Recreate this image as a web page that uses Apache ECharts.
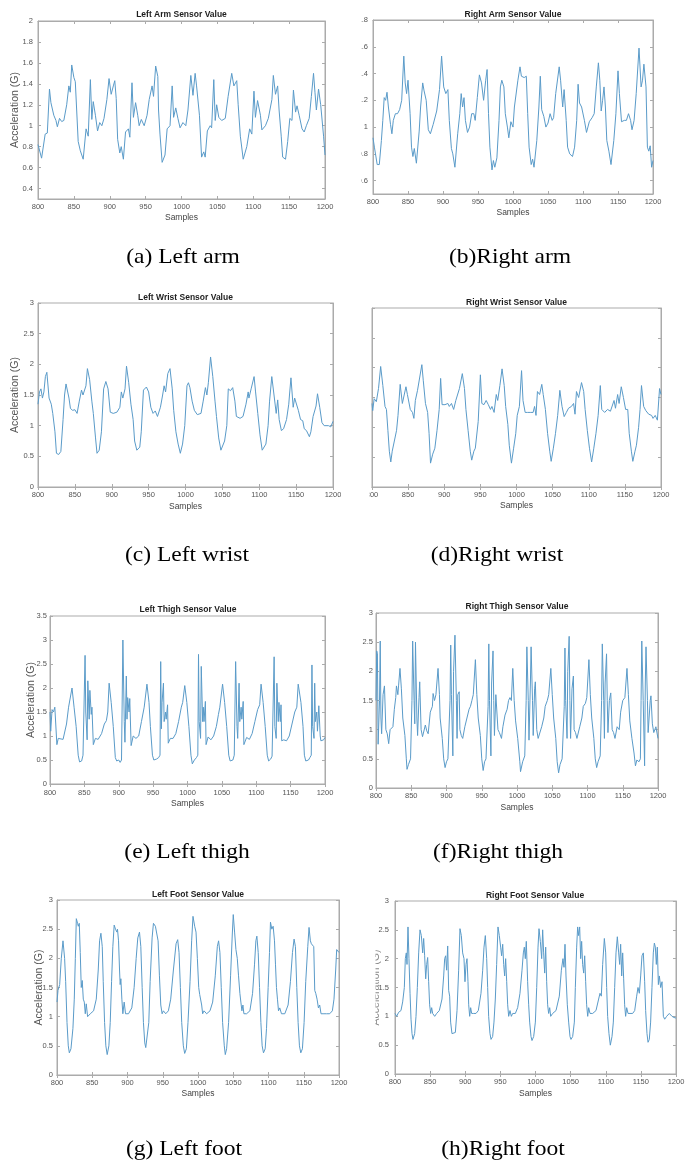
<!DOCTYPE html>
<html>
<head>
<meta charset="utf-8">
<script src="https://cdn.jsdelivr.net/npm/echarts@6.0.0/dist/echarts.min.js"></script>
<style>
html,body{margin:0;padding:0;background:#fff;}
#chart{width:692px;height:1164px;}
</style>
</head>
<body>
<div id="chart"></div>
<script>
// ---------- DATA (sample, acceleration G) ----------
const leftArm = [[800,0.82],[805,0.69],[810,0.92],[813,0.93],[816,1.35],[818,1.22],[822,1.1],[825,1.05],[827,0.99],[830,1.07],[833,1.04],[836,1.05],[840,1.2],[843,1.38],[845,1.32],[847,1.58],[850,1.46],[852,1.42],[856,0.85],[859,0.76],[863,0.68],[867,0.97],[870,0.9],[873,1.44],[875,1.06],[877,1.23],[880,1.1],[883,0.95],[886,1.03],[889,1.0],[892,1.07],[896,1.25],[899,1.45],[902,1.3],[905,1.38],[907,1.43],[909,1.26],[911,0.87],[914,0.74],[916,0.8],[919,0.68],[922,0.94],[926,0.97],[928,0.89],[931,1.41],[933,1.08],[936,1.22],[939,1.1],[941,1.0],[944,1.06],[948,1.0],[952,1.1],[955,1.25],[959,1.38],[961,1.28],[964,1.57],[967,1.47],[968,1.15],[970,0.92],[973,0.65],[977,0.72],[980,0.97],[984,1.0],[987,1.38],[989,1.08],[992,1.17],[995,1.07],[998,0.98],[1002,1.03],[1006,1.0],[1009,1.15],[1013,1.48],[1016,1.29],[1019,1.5],[1021,1.38],[1025,1.1],[1028,0.7],[1031,0.75],[1033,0.7],[1036,0.95],[1040,1.0],[1042,0.98],[1045,1.44],[1047,1.05],[1049,1.2],[1052,1.08],[1056,1.05],[1061,1.07],[1065,1.28],[1070,1.5],[1073,1.38],[1077,1.43],[1079,1.2],[1082,0.9],[1086,0.68],[1091,0.8],[1095,0.97],[1098,0.92],[1101,1.33],[1103,1.08],[1106,1.24],[1110,1.1],[1112,0.96],[1117,1.0],[1121,1.07],[1126,1.25],[1128,1.48],[1131,1.3],[1134,1.38],[1136,1.15],[1139,0.9],[1141,0.7],[1145,0.68],[1148,0.85],[1151,1.07],[1154,1.05],[1156,1.34],[1159,1.13],[1161,1.19],[1164,1.1],[1168,0.97],[1171,0.94],[1174,1.0],[1178,1.07],[1181,1.28],[1184,1.5],[1186,1.32],[1188,1.15],[1191,1.35],[1194,1.2],[1196,1.2],[1198,0.9],[1200,0.72]];

const rightArm = [[800,0.92],[802,0.85],[806,0.72],[809,0.72],[812,0.9],[814,1.05],[816,1.22],[818,1.2],[820,1.26],[822,1.15],[825,1.02],[827,0.95],[829,1.05],[832,1.1],[835,1.1],[838,1.13],[841,1.2],[844,1.53],[846,1.33],[848,1.25],[850,1.35],[853,1.1],[855,0.85],[857,0.78],[859,0.84],[862,0.73],[866,0.97],[868,1.15],[871,1.33],[873,1.27],[876,1.2],[879,0.98],[882,0.95],[886,1.02],[891,1.12],[895,1.28],[898,1.53],[901,1.3],[904,1.25],[907,1.28],[909,1.05],[912,0.84],[914,0.8],[917,0.7],[921,0.95],[924,1.1],[926,1.25],[928,1.15],[930,1.22],[932,1.05],[935,0.96],[938,1.0],[941,1.1],[944,1.1],[946,1.05],[949,1.22],[952,1.39],[955,1.33],[958,1.2],[961,1.35],[963,1.43],[965,1.1],[967,0.85],[970,0.68],[972,0.75],[974,0.7],[977,0.77],[980,1.05],[982,1.3],[984,1.35],[987,1.3],[989,1.1],[992,1.0],[994,0.92],[997,1.04],[1000,1.0],[1002,1.15],[1007,1.35],[1010,1.45],[1012,1.38],[1016,1.37],[1019,1.38],[1021,1.1],[1023,0.85],[1026,0.72],[1028,0.76],[1030,0.7],[1034,0.9],[1037,1.15],[1039,1.38],[1041,1.13],[1044,1.08],[1047,1.0],[1050,1.03],[1053,1.1],[1056,1.05],[1058,1.07],[1061,1.25],[1066,1.45],[1068,1.35],[1071,1.15],[1073,1.28],[1076,1.05],[1078,0.85],[1081,0.8],[1085,0.78],[1088,0.85],[1091,1.05],[1093,1.32],[1095,1.18],[1098,1.15],[1102,1.05],[1105,0.96],[1109,1.04],[1113,1.07],[1116,1.1],[1119,1.3],[1122,1.48],[1124,1.35],[1126,1.12],[1128,1.2],[1130,1.3],[1132,1.15],[1134,0.9],[1137,0.82],[1140,0.72],[1144,0.9],[1147,1.1],[1150,1.42],[1152,1.25],[1155,1.04],[1159,1.05],[1162,1.05],[1165,1.1],[1168,1.05],[1170,0.98],[1173,1.05],[1176,1.25],[1180,1.59],[1183,1.3],[1185,1.35],[1187,1.47],[1190,1.3],[1192,0.85],[1194,0.82],[1196,0.86],[1198,0.7],[1200,0.75]];

const leftWrist = [[800,1.35],[802,1.55],[804,1.6],[806,1.45],[808,1.55],[810,1.8],[812,1.87],[815,1.45],[818,1.35],[820,1.2],[823,0.9],[825,0.55],[828,0.53],[831,0.58],[834,1.1],[836,1.5],[838,1.68],[842,1.45],[844,1.28],[847,1.25],[850,1.26],[853,1.2],[856,1.4],[859,1.58],[861,1.5],[865,1.65],[867,1.93],[870,1.75],[873,1.4],[875,1.2],[878,0.8],[880,0.55],[883,0.6],[886,0.9],[889,1.6],[892,1.72],[895,1.6],[898,1.22],[902,1.2],[907,1.22],[911,1.3],[913,1.55],[915,1.45],[918,1.6],[920,1.97],[923,1.7],[926,1.35],[929,1.1],[931,0.75],[934,0.6],[938,0.65],[940,0.9],[943,1.58],[947,1.63],[950,1.55],[953,1.3],[956,1.2],[959,1.24],[962,1.15],[966,1.3],[969,1.5],[971,1.65],[973,1.55],[976,1.85],[979,1.93],[982,1.6],[984,1.25],[987,0.9],[990,0.7],[993,0.55],[996,0.7],[999,1.0],[1002,1.65],[1004,1.7],[1006,1.62],[1009,1.4],[1012,1.25],[1016,1.18],[1021,1.2],[1024,1.4],[1027,1.62],[1029,1.5],[1031,1.7],[1034,2.12],[1037,1.8],[1040,1.4],[1042,1.15],[1045,0.8],[1048,0.6],[1050,0.57],[1053,0.75],[1056,1.0],[1058,1.6],[1061,1.57],[1064,1.62],[1067,1.4],[1069,1.15],[1074,1.12],[1078,1.15],[1082,1.35],[1085,1.55],[1086,1.45],[1089,1.6],[1093,1.8],[1095,1.55],[1098,1.2],[1101,0.85],[1104,0.6],[1106,0.6],[1109,0.7],[1112,1.0],[1114,1.4],[1117,1.8],[1120,1.5],[1123,1.2],[1125,1.42],[1127,1.1],[1130,0.92],[1133,0.95],[1137,1.1],[1140,1.35],[1141,1.5],[1143,1.78],[1146,1.3],[1148,1.45],[1150,1.42],[1153,1.25],[1156,1.1],[1159,1.08],[1161,0.95],[1164,0.92],[1168,0.82],[1170,0.9],[1173,1.15],[1177,1.32],[1179,1.52],[1182,1.3],[1185,1.05],[1188,1.0],[1190,0.98],[1194,1.0],[1197,0.98],[1200,1.07]];

const rightWrist = [[800,1.4],[801,1.28],[803,1.48],[806,1.43],[809,1.65],[812,2.02],[815,1.7],[818,1.35],[820,1.3],[822,0.95],[824,0.6],[826,0.42],[828,0.6],[830,0.6],[834,0.95],[836,1.2],[839,1.72],[842,1.4],[844,1.4],[847,1.68],[849,1.55],[853,1.3],[856,1.25],[858,1.15],[860,1.45],[863,1.62],[865,1.62],[869,2.05],[871,1.78],[874,1.4],[877,1.25],[879,0.9],[881,0.4],[884,0.55],[887,0.65],[890,0.95],[893,1.3],[895,1.82],[897,1.38],[901,1.38],[905,1.4],[907,1.35],[910,1.4],[913,1.3],[916,1.45],[918,1.47],[921,1.65],[925,1.9],[928,1.65],[930,1.3],[933,0.95],[936,0.6],[938,0.45],[941,0.6],[943,0.65],[947,1.1],[950,1.88],[952,1.4],[955,1.38],[958,1.45],[961,1.38],[964,1.3],[966,1.35],[969,1.25],[972,1.55],[974,1.45],[977,1.7],[980,1.98],[983,1.7],[985,1.35],[988,1.05],[990,0.7],[993,0.4],[996,0.65],[999,0.9],[1001,1.2],[1004,1.35],[1007,1.95],[1009,1.45],[1012,1.25],[1015,1.25],[1019,1.25],[1023,1.25],[1025,1.35],[1027,1.2],[1029,1.6],[1032,1.55],[1035,1.72],[1037,1.55],[1040,1.3],[1043,0.9],[1046,0.6],[1048,0.43],[1051,0.65],[1054,0.9],[1057,1.2],[1060,1.62],[1063,1.35],[1066,1.18],[1069,1.25],[1072,1.32],[1076,1.35],[1079,1.4],[1081,1.22],[1083,1.6],[1086,1.5],[1090,1.75],[1093,1.6],[1095,1.3],[1098,0.95],[1101,0.65],[1104,0.42],[1107,0.65],[1110,0.9],[1113,1.2],[1116,1.7],[1118,1.3],[1122,1.25],[1126,1.3],[1130,1.27],[1132,1.3],[1135,1.45],[1137,1.32],[1140,1.55],[1142,1.4],[1145,1.68],[1148,1.5],[1151,1.3],[1154,1.3],[1156,0.9],[1159,0.6],[1161,0.43],[1164,0.6],[1166,0.7],[1169,1.0],[1171,1.3],[1173,1.7],[1176,1.35],[1179,1.28],[1183,1.22],[1187,1.2],[1189,1.15],[1192,1.2],[1195,1.12],[1198,1.65],[1200,1.55]];

const leftThigh = [[800,1.5],[801,1.1],[803,1.55],[805,1.5],[807,1.6],[810,0.82],[812,0.95],[819,0.93],[824,1.25],[827,1.6],[829,1.58],[832,2.0],[835,1.6],[838,1.2],[841,0.6],[843,0.46],[846,0.48],[848,0.6],[850,0.62],[851,2.68],[852,1.5],[854,0.92],[855,2.15],[857,1.35],[858,1.95],[860,1.45],[861,1.6],[863,0.82],[866,0.95],[870,0.93],[875,1.05],[879,1.25],[882,1.32],[884,1.5],[886,2.1],[889,1.7],[892,1.2],[895,0.55],[897,0.48],[900,0.5],[902,0.45],[904,0.5],[906,3.0],[908,1.3],[909,0.87],[911,2.25],[912,1.35],[913,1.8],[915,1.5],[916,1.78],[918,0.8],[921,1.0],[925,0.95],[929,1.0],[933,1.3],[937,1.6],[939,1.62],[941,2.08],[944,1.7],[946,1.2],[949,0.6],[951,0.5],[955,0.52],[958,0.55],[960,0.6],[961,2.55],[962,1.15],[963,1.7],[965,2.1],[966,1.3],[968,1.5],[969,1.35],[971,1.65],[972,0.85],[975,0.95],[979,0.95],[983,1.05],[987,1.3],[991,1.6],[993,1.7],[996,2.05],[999,1.7],[1002,1.2],[1005,0.6],[1007,0.42],[1010,0.5],[1013,0.55],[1015,0.6],[1016,2.7],[1017,1.3],[1019,0.95],[1020,2.45],[1022,1.3],[1023,1.6],[1024,1.3],[1026,1.72],[1027,0.82],[1030,0.98],[1034,0.92],[1038,1.0],[1042,1.2],[1045,1.45],[1047,1.6],[1051,2.08],[1054,1.7],[1057,1.2],[1060,0.6],[1062,0.48],[1066,0.5],[1068,0.6],[1069,0.62],[1070,2.55],[1072,1.2],[1073,0.95],[1075,2.1],[1076,1.3],[1078,1.6],[1079,1.35],[1081,1.72],[1082,0.82],[1086,0.97],[1090,0.93],[1094,1.05],[1098,1.3],[1102,1.55],[1105,1.65],[1107,2.08],[1110,1.7],[1113,1.2],[1116,0.6],[1118,0.48],[1121,0.52],[1123,0.58],[1125,0.6],[1126,2.65],[1127,1.2],[1129,0.95],[1130,2.1],[1132,1.3],[1133,1.7],[1135,1.3],[1136,1.65],[1137,0.9],[1140,0.92],[1144,0.9],[1148,1.0],[1152,1.25],[1156,1.5],[1159,1.6],[1161,2.08],[1165,1.7],[1168,1.2],[1170,0.6],[1172,0.48],[1176,0.5],[1178,0.55],[1180,0.6],[1181,2.48],[1182,1.2],[1184,0.95],[1185,2.1],[1186,1.3],[1188,1.5],[1189,1.1],[1191,1.63],[1193,1.0],[1194,0.9],[1198,0.92],[1200,0.97]];

const rightThigh = [[800,1.5],[801,2.35],[802,2.3],[803,0.75],[805,1.5],[806,2.52],[807,1.2],[808,0.93],[810,1.6],[812,1.75],[814,1.0],[816,0.93],[818,0.76],[820,1.0],[822,1.03],[824,1.05],[826,1.35],[828,1.55],[829,1.75],[831,1.6],[832,1.75],[834,2.05],[836,1.7],[838,1.2],[841,0.9],[843,0.5],[844,0.32],[846,0.4],[849,0.5],[850,0.48],[851,1.5],[852,2.52],[854,1.5],[855,1.1],[856,2.5],[858,1.2],[859,0.9],[861,1.55],[862,1.82],[864,1.0],[866,0.88],[867,0.85],[870,1.08],[872,0.98],[874,0.93],[877,1.3],[880,1.4],[881,1.62],[883,1.5],[885,1.6],[888,2.05],[890,1.6],[891,1.2],[894,0.85],[896,0.5],[898,0.35],[900,0.45],[902,0.5],[904,0.5],[905,1.5],[906,2.45],[907,1.6],[909,0.55],[910,2.0],[912,2.62],[914,1.5],[915,0.85],[916,1.6],[918,1.65],[919,1.0],[921,0.9],[923,0.85],[926,1.05],[929,1.2],[932,1.35],[934,1.4],[936,1.5],[938,1.6],[941,2.2],[943,1.6],[945,1.2],[948,0.9],[950,0.5],[952,0.3],[954,0.45],[956,0.5],[958,0.5],[959,1.4],[960,2.47],[961,1.5],[963,0.55],[964,1.8],[966,2.35],[967,1.5],[968,0.9],[970,1.6],[972,1.63],[973,1.0],[975,0.95],[978,0.85],[980,1.05],[983,1.25],[986,1.35],[988,1.5],[990,1.55],[992,1.5],[994,2.05],[996,1.5],[998,1.15],[1001,0.85],[1004,0.45],[1005,0.28],[1008,0.45],[1011,0.55],[1012,0.55],[1013,1.5],[1014,2.42],[1016,1.5],[1017,0.82],[1019,1.8],[1020,2.42],[1022,1.5],[1023,0.9],[1025,1.7],[1026,1.82],[1028,1.0],[1030,0.85],[1032,0.82],[1035,1.05],[1038,1.2],[1040,1.4],[1043,1.5],[1045,1.6],[1048,2.05],[1050,1.6],[1052,1.2],[1055,0.85],[1057,0.45],[1059,0.26],[1061,0.4],[1064,0.5],[1066,0.52],[1067,1.4],[1068,2.4],[1069,1.5],[1071,0.85],[1072,2.0],[1074,2.6],[1075,1.5],[1076,0.85],[1078,1.7],[1080,1.92],[1081,1.0],[1083,0.95],[1085,0.85],[1089,1.05],[1092,1.2],[1094,1.4],[1097,1.45],[1099,1.55],[1102,2.2],[1104,1.6],[1106,1.2],[1109,0.85],[1111,0.5],[1113,0.35],[1115,0.45],[1118,0.55],[1119,0.55],[1120,1.5],[1121,2.47],[1123,1.5],[1124,0.85],[1125,1.8],[1127,2.3],[1128,1.5],[1129,0.95],[1131,1.5],[1133,1.63],[1135,1.0],[1137,0.95],[1139,0.85],[1142,1.05],[1145,1.0],[1147,1.3],[1150,1.5],[1153,1.55],[1156,2.05],[1158,1.6],[1160,1.15],[1163,0.85],[1166,0.6],[1168,0.38],[1170,0.48],[1173,0.45],[1175,0.5],[1176,1.5],[1177,2.52],[1179,1.5],[1181,0.38],[1182,1.8],[1183,2.42],[1185,1.5],[1186,0.95],[1189,1.5],[1190,1.58],[1192,1.1],[1194,0.95],[1197,1.05],[1200,0.85]];

const leftFoot = [[800,1.25],[801.4,1.45],[803.8,1.55],[806.1,2.0],[808.5,2.3],[810.8,2.0],[812.3,1.6],[814.2,0.9],[816,0.5],[817.5,0.38],[819.8,0.45],[822.6,0.8],[824.5,1.3],[826,2.0],[827.4,2.68],[829.2,2.6],[830.2,2.55],[831.6,2.6],[833,2.1],[834.4,1.5],[835.8,1.62],[837.3,1.3],[838.7,1.25],[840.1,1.05],[841.5,1.22],[843.4,1.0],[847.2,1.05],[851.9,1.1],[855.7,1.3],[858.5,1.8],[860.4,2.3],[862.3,2.43],[864.2,2.2],[865.6,1.6],[867.5,0.9],[869.3,0.5],[871.2,0.35],[873.6,0.5],[875.5,0.9],[877.4,1.6],[879.2,2.2],[881.1,2.57],[883,2.5],[884.9,2.45],[885.8,2.5],[887.3,2.3],[888.7,1.8],[889.6,1.55],[890.6,1.65],[892,1.3],[893.4,1.05],[895.3,1.25],[897.2,1.05],[901.4,1.05],[906.1,1.15],[909.4,1.5],[912.3,2.0],[914.6,2.35],[917,2.45],[918.9,2.2],[920.8,1.5],[922.6,0.9],[924.5,0.55],[925.9,0.47],[927.4,0.5],[930.2,0.9],[932.1,1.6],[934.9,2.35],[936.8,2.6],[939.6,2.55],[941.5,2.55],[943.4,2.3],[945.3,1.7],[947.2,1.2],[949.1,1.05],[950.9,1.1],[954.2,1.05],[958,1.1],[961.3,1.3],[965.1,1.8],[968.9,2.25],[971.2,2.32],[973.1,2.1],[975,1.5],[976.9,0.9],[979.2,0.5],[981.1,0.37],[983.5,0.45],[985.8,0.9],[988.7,1.6],[991,2.3],[992.9,2.72],[995.3,2.55],[997.2,2.45],[999.1,2.0],[1001,1.5],[1002.4,1.38],[1003.8,1.4],[1005.2,1.2],[1006.6,1.05],[1008.5,1.1],[1012.3,1.05],[1017,1.1],[1020.8,1.25],[1024.5,1.7],[1027.4,2.2],[1029.2,2.3],[1031.1,2.1],[1033,1.5],[1034.9,0.9],[1037.3,0.5],[1038.7,0.35],[1040.6,0.45],[1043.4,0.9],[1046.2,1.7],[1048.6,2.4],[1050,2.75],[1051.9,2.45],[1053.8,2.15],[1055.7,2.0],[1057.5,1.7],[1059.4,1.4],[1060.8,1.25],[1062.3,1.1],[1063.7,1.2],[1065.1,1.05],[1068.9,1.05],[1073.6,1.1],[1077.4,1.4],[1080.2,1.9],[1082.1,2.3],[1083.5,2.38],[1085.4,2.1],[1087.3,1.5],[1089.2,0.9],[1091,0.5],[1092.9,0.38],[1095.3,0.45],[1097.2,0.8],[1099.5,1.5],[1101.4,2.1],[1102.8,2.62],[1104.7,2.5],[1106.6,2.55],[1108.5,2.3],[1109.9,1.9],[1111.3,1.5],[1112.7,1.3],[1114.2,1.1],[1116,1.15],[1118.4,1.05],[1123.1,1.05],[1127.8,1.2],[1131.1,1.6],[1134,2.1],[1136.3,2.33],[1138.2,2.2],[1140.1,1.5],[1142,0.9],[1143.9,0.5],[1145.8,0.38],[1148.1,0.45],[1150.5,0.9],[1152.8,1.6],[1155.7,2.2],[1157.5,2.53],[1159.4,2.3],[1160.8,2.25],[1162.3,2.25],[1164.2,2.2],[1165.6,1.45],[1167,1.4],[1168.9,1.3],[1170.8,1.15],[1172.6,1.2],[1174.5,1.05],[1177.4,1.05],[1182.1,1.05],[1186.8,1.05],[1190.6,1.1],[1192.9,1.3],[1195.3,1.8],[1196.7,2.15],[1198.1,2.15],[1200,2.1]];

const rightFoot = [[800,1.05],[802.4,1.0],[805.2,1.07],[808.5,1.1],[810.9,1.25],[813.3,1.5],[814.7,2.0],[816.1,2.1],[817.1,1.9],[818.5,2.55],[819.9,2.0],[821.4,1.4],[822.8,0.95],[824.2,0.7],[825.6,0.6],[828,0.7],[829.9,1.0],[831.8,1.5],[833.7,2.1],[835.6,2.5],[837.5,2.4],[839.4,2.1],[840.8,2.35],[842.2,2.05],[843.7,1.65],[845.1,1.9],[846.5,2.02],[847.9,1.6],[849.3,1.2],[850.8,1.05],[852.2,1.15],[853.6,1.05],[856.5,1.0],[859.3,1.05],[863.1,1.1],[866.9,1.3],[869.3,1.7],[870.7,2.0],[872.1,2.05],[873.5,1.8],[875,2.22],[876.4,1.45],[877.8,1.35],[879.2,0.9],[881.1,0.7],[883,0.7],[885.9,0.72],[888.3,1.1],[890.6,1.8],[892.5,2.52],[894.4,2.4],[896.3,2.1],[898.2,2.0],[899.6,1.6],[901.1,1.9],[902.5,2.0],[903.9,1.6],[904.9,1.2],[906.3,1.0],[907.7,1.15],[909.1,1.05],[912,1.05],[915.3,1.05],[918.6,1.1],[922.4,1.4],[924.8,1.8],[926.7,2.2],[928.6,2.4],[930.5,2.0],[931.9,1.5],[933.3,1.0],[935.2,0.7],[936.7,0.6],[939,0.65],[940.9,0.9],[942.8,1.3],[944.7,1.9],[946.6,2.55],[948.5,2.4],[950.4,2.2],[951.8,2.05],[953.3,2.25],[954.7,1.9],[956.1,1.7],[957.5,2.0],[959,1.6],[960.4,1.2],[961.8,1.0],[963.7,1.1],[965.6,1.0],[967.5,1.05],[971.3,1.05],[974.6,1.15],[977.9,1.4],[980.8,1.8],[982.7,2.1],[984.1,2.2],[985.5,2.0],[986.9,2.3],[988.8,1.6],[990.3,1.2],[991.7,0.9],[993.6,0.65],[995,0.58],[997.4,0.65],[999.8,0.9],[1001.7,1.5],[1003.6,2.2],[1005,2.52],[1006.9,2.3],[1008.8,2.0],[1010.2,2.5],[1011.6,2.1],[1013.1,1.75],[1014.5,2.2],[1015.9,1.6],[1017.3,1.2],[1018.7,1.05],[1020.2,1.15],[1021.6,1.0],[1024.4,1.05],[1029.2,1.1],[1033.9,1.35],[1036.8,1.8],[1039.1,2.0],[1040.6,1.85],[1042,2.25],[1043.4,1.7],[1045.3,1.2],[1047.2,0.9],[1049.1,0.65],[1050.5,0.6],[1052.9,0.65],[1055.3,0.9],[1056.7,1.5],[1058.6,2.2],[1060,2.55],[1061.4,2.4],[1062.9,2.55],[1064.3,2.0],[1065.7,2.3],[1067.1,1.9],[1068.6,1.75],[1070,2.05],[1071.4,1.6],[1072.8,1.2],[1074.3,1.0],[1075.7,1.15],[1077.6,1.05],[1081.4,1.05],[1086.1,1.1],[1089.9,1.3],[1091.8,1.4],[1093.7,1.35],[1095.6,1.9],[1098,2.35],[1099.9,2.1],[1101.3,1.5],[1102.7,1.0],[1104.6,0.7],[1106.5,0.5],[1108.9,0.65],[1110.8,0.9],[1112.7,1.5],[1114.6,2.1],[1116.5,2.38],[1118.4,2.1],[1119.8,1.9],[1121.2,2.25],[1122.7,1.7],[1124.1,2.1],[1125.5,1.65],[1126.9,1.2],[1128.3,1.0],[1129.8,1.15],[1131.7,1.05],[1134.5,1.05],[1138.3,1.05],[1141.2,1.1],[1144,1.35],[1145.9,1.5],[1147.8,1.4],[1149.7,1.7],[1151.6,2.05],[1153.5,2.1],[1155.4,1.6],[1156.8,1.1],[1158.7,0.7],[1160.2,0.55],[1162,0.6],[1163.9,0.9],[1165.8,1.5],[1167.7,2.1],[1169.2,2.27],[1170.6,2.2],[1172,1.9],[1173.4,2.2],[1174.9,1.55],[1176.3,1.7],[1178.2,1.5],[1180.1,1.6],[1182,1.0],[1183.9,0.95],[1186.7,1.0],[1190.5,1.05],[1194.3,1.0],[1197.2,0.98],[1200,0.97]];

// tick values
const armLeftTicks = [0.4,0.6,0.8,1,1.2,1.4,1.6,1.8,2];
const armRightTicks = [0.6,0.8,1,1.2,1.4,1.6,1.8];
const ticks3 = [0,0.5,1,1.5,2,2.5,3];
const ticks35 = [0,0.5,1,1.5,2,2.5,3,3.5];

const titles = ['Left Arm Sensor Value','Right Arm Sensor Value','Left Wrist Sensor Value','Right Wrist Sensor Value','Left Thigh Sensor Value','Right Thigh Sensor Value','Left Foot Sensor Value','Right Foot Sensor Value'];
const captions = ['(a) Left arm','(b)Right arm','(c) Left wrist','(d)Right wrist','(e) Left thigh','(f)Right thigh','(g) Left foot','(h)Right foot'];
const seriesData = [leftArm, rightArm, leftWrist, rightWrist, leftThigh, rightThigh, leftFoot, rightFoot];
const yTickSets = [armLeftTicks, armRightTicks, ticks3, ticks3, ticks35, ticks3, ticks3, ticks3];
const yRanges = [[0.3,2],[0.5,1.8],[0,3],[0,3],[0,3.5],[0,3],[0,3],[0,3]];

// ---------- LAYOUT ----------
const layout = [
  {g:[38,21,287,178], t:[181.5,14.5], yl:true, yName:true, yGap:17.5, yMargin:5, xMargin:4, xGap:14.5, cap:[183,257]},
  {g:[373,20,280,174], t:[513,14.5], yl:true, yName:false, yGap:0, yMargin:5, xMargin:4, xGap:14.5, cap:[510,257]},
  {g:[38,303,295,184], t:[185.5,297.5], yl:true, yName:true, yGap:17.5, yMargin:4, xMargin:4, xGap:15.5, cap:[187,555]},
  {g:[372,308,289,179], t:[516.5,302.5], yl:false, yName:false, yGap:0, yMargin:4, xMargin:4, xGap:14.5, cap:[497,555]},
  {g:[50,616,275,168], t:[188,610], yl:true, yName:true, yGap:13, yMargin:3, xMargin:5, xGap:15.5, cap:[187,852]},
  {g:[376,613,282,175], t:[517,607], yl:true, yName:false, yGap:0, yMargin:3, xMargin:4, xGap:15, cap:[498,852]},
  {g:[57,900,282,175], t:[198,895], yl:true, yName:true, yGap:12.5, yMargin:4, xMargin:4, xGap:14, cap:[184,1149]},
  {g:[395,901,281,173], t:[535,896], yl:true, yName:true, yGap:13.5, yMargin:6, xMargin:4, xGap:15, cap:[503,1149], faintName:true}
];

const lineColor = '#5a9bc9';
const boxColor = '#ababab';
const labelColor = '#555';
const sans = '"Liberation Sans", Arial, Helvetica, sans-serif';
const plainNum = v => String(v);

const grids = [], xAxes = [], yAxes = [], series = [], graphics = [];
layout.forEach((L, i) => {
  grids.push({left:L.g[0], top:L.g[1], width:L.g[2], height:L.g[3], show:true, borderColor:boxColor, borderWidth:1, backgroundColor:'#fff'});
  const tickStyle = {color:boxColor, width:1};
  const xCommon = {type:'value', gridIndex:i, min:800, max:1200, interval:50, splitLine:{show:false},
    axisLine:{show:true, lineStyle:{color:boxColor}}, axisTick:{show:true, inside:true, length:3, lineStyle:tickStyle}};
  xAxes.push(Object.assign({}, xCommon, {position:'bottom',
    axisLabel:{show:true, fontSize:7.5, color:labelColor, margin:L.xMargin, fontFamily:sans, formatter:plainNum, showMinLabel:true, showMaxLabel:true, hideOverlap:false},
    name:'Samples', nameLocation:'middle', nameGap:L.xGap, nameMoveOverlap:false, nameTextStyle:{fontSize:8.5, color:'#444', fontFamily:sans}}));
  xAxes.push(Object.assign({}, xCommon, {position:'top', axisLabel:{show:false}}));
  const yt = yTickSets[i];
  const yCommon = {type:'value', gridIndex:i, min:yRanges[i][0], max:yRanges[i][1], splitLine:{show:false},
    axisLine:{show:true, lineStyle:{color:boxColor}}, axisTick:{show:true, inside:true, length:3, lineStyle:tickStyle, customValues:yt}};
  const yMain = Object.assign({}, yCommon, {position:'left',
    axisLabel:{show:L.yl, fontSize:7.5, color:labelColor, margin:L.yMargin, fontFamily:sans, customValues:yt, formatter:plainNum}});
  if (L.yName) {
    Object.assign(yMain, {name:'Acceleration (G)', nameLocation:'middle', nameGap:L.yGap, nameRotate:90, nameMoveOverlap:false,
      nameTextStyle:{fontSize:10.5, color: L.faintName ? '#8a8a8a' : '#555', fontFamily:sans}});
  }
  yAxes.push(yMain);
  yAxes.push(Object.assign({}, yCommon, {position:'right', axisLabel:{show:false, customValues:yt}}));
  series.push({type:'line', xAxisIndex:2*i, yAxisIndex:2*i, data:seriesData[i], showSymbol:false, symbol:'none',
    lineStyle:{color:lineColor, width:1}, smooth:false, animation:false, z:3});
  graphics.push({type:'text', x:L.t[0], y:L.t[1], z:50,
    style:{text:titles[i], fill:'#1e1e1e', fontSize:8.5, fontWeight:'bold', fontFamily:sans,
      textAlign:'center', textVerticalAlign:'middle', align:'center', verticalAlign:'middle'}});
  graphics.push({type:'text', x:L.cap[0], y:L.cap[1], scaleX:1.12, z:50,
    style:{text:captions[i], fill:'#000', fontSize:21, fontFamily:'"Liberation Serif", "Times New Roman", serif',
      textAlign:'center', textVerticalAlign:'middle', align:'center', verticalAlign:'middle'}});
});

// white masks reproducing the cropped edges of the right-hand panels
graphics.push({type:'rect', z:100, shape:{x:338, y:12, width:23, height:190}, style:{fill:'#fff'}});
graphics.push({type:'rect', z:100, shape:{x:341, y:489, width:28.5, height:14}, style:{fill:'#fff'}});
graphics.push({type:'rect', z:100, shape:{x:341, y:915, width:34.5, height:150}, style:{fill:'#fff'}});

const chart = echarts.init(document.getElementById('chart'), null, {renderer:'canvas', width:692, height:1164});
chart.setOption({
  animation:false,
  backgroundColor:'#fff',
  grid:grids, xAxis:xAxes, yAxis:yAxes, series:series, graphic:graphics
});
</script>
</body>
</html>
